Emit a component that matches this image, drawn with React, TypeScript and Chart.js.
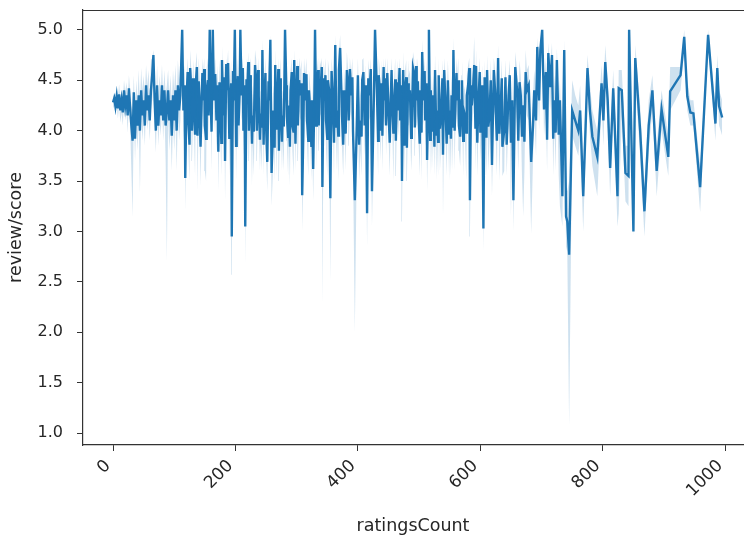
import React, { useEffect, useRef } from "react";
import { Chart, registerables } from "chart.js";
Chart.register(...registerables);

// Main sampled points (x = ratingsCount, mean review/score and its 95% CI)
const ratingsCount = [
  0, 2, 4, 6, 8, 10, 12, 14, 16, 18,
  20, 22, 24, 26, 28, 30, 32, 34, 36, 38,
  40, 42, 44, 46, 48, 50, 52, 54, 56, 58,
  60, 62, 64, 66, 68, 70, 72, 74, 76, 78,
  80, 82, 84, 86, 88, 90, 92, 94, 96, 98,
  100, 102, 104, 106, 108, 110,
  113, 115, 118, 120, 123, 126, 129, 132, 135, 138,
  141, 144, 147, 150, 153, 156, 158, 160, 163, 165,
  169, 172, 175, 178, 180, 183, 186, 188, 191, 194,
  197, 199, 202, 205, 208, 210, 213, 216, 219, 222,
  225, 228, 232, 235, 238, 241, 244, 247, 250, 252,
  255, 257, 259, 262, 265, 268, 271, 274, 277, 281,
  284, 287, 290, 293, 296, 299, 302, 306, 309, 312,
  314, 317, 320, 322, 325, 327, 330, 333, 336, 339,
  342, 345, 348, 351, 355, 359, 363, 366, 369, 371,
  374, 378, 382, 385, 389, 392,
  395, 400, 404, 407, 411, 415, 419, 423, 428, 431,
  434, 437, 440, 443, 446, 450, 453, 456, 459, 462,
  466, 469, 472, 474, 477, 480, 483, 485, 488, 490,
  493, 496, 499, 502, 505, 507, 510, 513, 516, 519,
  523, 526, 529, 532, 536, 539, 543, 547, 550, 553,
  556, 559, 562, 565, 567, 570, 573, 575, 578, 580,
  583, 586, 588, 590, 593, 597, 600, 605, 608, 611,
  615, 619, 624, 629, 633, 636, 641, 645, 650, 654,
  657, 662, 666, 670, 674, 676, 683, 688, 693, 698,
  701, 704, 709, 711, 714, 717, 721, 725, 730, 734,
  737, 740, 742, 745,
  750, 755, 760, 763, 768, 772, 775, 779, 783, 791,
  798, 801, 804, 808, 812, 817, 824, 826, 831, 837,
  842, 843, 850, 853, 861, 868, 875, 881, 888, 896,
  907, 910, 927, 933, 938, 943, 948, 959, 972, 984,
  987, 990, 995,
];

const meanScore = [
  4.28, 4.32, 4.24, 4.34, 4.22, 4.36, 4.20, 4.30, 4.18, 4.40,
  4.25, 4.35, 4.15, 4.42, 4.22, 4.05, 3.90, 4.38, 3.92, 4.30,
  4.05, 4.35, 4.00, 4.40, 4.15, 4.30, 4.05, 4.45, 4.20, 4.35,
  4.10, 4.40, 4.55, 4.75, 4.30, 4.00, 4.45, 4.05, 4.30, 4.15,
  4.45, 4.10, 4.40, 4.05, 4.20, 4.40, 4.10, 4.30, 3.95, 4.35,
  4.10, 4.40, 4.00, 4.45, 4.20, 4.35,
  5.00, 4.20, 3.53, 4.30, 4.10, 4.62, 4.00, 4.30, 4.45, 3.95,
  4.35, 4.10, 4.30, 4.05, 4.40, 4.15, 5.00, 4.20, 5.00, 4.30,
  4.10, 3.79, 4.30, 4.70, 4.15, 3.70, 4.40, 4.67, 4.20, 2.95,
  4.30, 5.00, 4.20, 4.05, 5.00, 4.35, 4.00, 3.05, 4.30, 4.00,
  4.40, 4.15, 4.65, 4.00, 4.35, 4.10, 4.80, 4.25, 4.05, 3.69,
  4.30, 4.90, 3.58, 4.20, 4.65, 4.10, 3.80, 4.35, 4.15, 5.00,
  4.14, 4.25, 4.40, 4.05, 4.70, 4.20, 4.05, 4.35, 3.36, 4.57,
  4.30, 4.10, 4.40, 4.20, 4.30, 3.62, 5.00, 4.35, 4.05, 4.40,
  3.44, 4.30, 4.10, 4.50, 3.33, 4.30, 4.85, 4.20, 4.60, 4.82,
  4.15, 4.40, 4.60, 4.10, 4.35, 4.00,
  3.31, 4.55, 4.10, 4.50, 4.05, 3.18, 4.35, 3.40, 5.00, 4.40,
  4.55, 4.00, 3.95, 4.30, 4.05, 4.20, 4.15, 4.30, 4.25, 3.90,
  4.20, 4.10, 3.50, 4.60, 4.40, 3.83, 4.30, 4.40, 4.05, 4.62,
  4.03, 4.30, 4.15, 4.40, 4.78, 4.30, 4.10, 3.71, 5.00, 4.40,
  4.35, 4.60, 4.20, 4.55, 4.15, 3.76, 4.25, 4.50, 4.20, 4.35,
  4.80, 4.20, 4.30, 4.05, 3.94, 4.50, 4.20, 4.15, 4.35, 4.45,
  3.31, 4.25, 4.40, 4.65, 4.64, 4.30, 3.98, 3.03, 4.20, 4.60,
  4.15, 3.66, 4.40, 4.72, 4.20, 3.84, 4.53, 4.20, 3.88, 3.31,
  4.63, 3.90, 4.35, 4.25, 4.58, 4.40, 3.69, 4.40, 4.83, 4.80,
  5.00, 4.21, 3.91, 4.77, 4.43, 4.75, 4.30, 4.70, 4.30, 3.35,
  4.80, 3.15, 3.10, 2.77,
  4.20, 4.10, 4.00, 4.20, 3.35, 4.05, 4.62, 4.20, 3.94, 3.74,
  4.47, 4.10, 4.68, 4.30, 3.63, 4.42, 3.35, 4.42, 4.40, 3.58,
  3.55, 5.00, 3.00, 4.72, 4.00, 3.20, 4.05, 4.40, 3.60, 4.21,
  3.74, 4.39, 4.55, 4.93, 4.34, 4.18, 4.17, 3.44, 4.95, 4.07,
  4.62, 4.24, 4.13,
];

const ciLow = [
  4.22, 4.25, 4.15, 4.26, 4.12, 4.25, 4.08, 4.18, 4.05, 4.28,
  4.10, 4.20, 3.98, 4.30, 4.05, 3.60, 3.14, 4.20, 3.70, 4.10,
  3.80, 4.10, 3.38, 4.20, 3.90, 4.10, 3.85, 4.25, 4.00, 4.15,
  3.90, 4.20, 4.30, 4.55, 4.05, 3.78, 4.25, 3.85, 4.10, 3.95,
  4.25, 3.90, 4.20, 3.70, 2.70, 4.15, 3.80, 4.05, 3.60, 4.10,
  3.80, 4.15, 3.60, 4.20, 3.90, 4.10,
  5.00, 3.90, 3.20, 4.05, 3.80, 4.40, 3.70, 4.05, 4.20, 3.40,
  4.10, 3.85, 3.95, 3.60, 4.15, 3.90, 5.00, 3.95, 5.00, 4.00,
  3.80, 3.40, 4.05, 4.50, 3.90, 3.30, 4.15, 4.45, 3.90, 2.57,
  4.05, 5.00, 3.90, 3.80, 5.00, 4.10, 3.75, 2.67, 4.05, 3.70,
  4.15, 3.90, 4.45, 3.70, 4.10, 3.85, 4.55, 4.00, 3.75, 3.40,
  4.05, 4.70, 3.25, 3.95, 4.45, 3.85, 3.50, 4.10, 3.90, 5.00,
  3.90, 4.00, 4.15, 3.80, 4.45, 3.95, 3.70, 4.10, 3.00, 4.30,
  4.05, 3.85, 4.15, 3.95, 4.05, 3.30, 5.00, 4.10, 3.80, 4.15,
  2.27, 4.05, 3.80, 4.25, 2.50, 4.05, 4.65, 3.95, 4.35, 4.60,
  3.85, 4.15, 4.35, 3.85, 4.10, 3.70,
  2.00, 4.30, 3.80, 4.25, 3.75, 2.85, 4.10, 3.05, 5.00, 4.15,
  4.30, 3.70, 3.60, 4.05, 3.75, 3.95, 3.90, 4.05, 4.00, 3.55,
  3.95, 3.85, 3.10, 4.35, 4.15, 3.50, 4.05, 4.15, 3.75, 4.40,
  3.75, 4.05, 3.90, 4.15, 4.55, 4.05, 3.85, 3.40, 5.00, 4.15,
  4.10, 4.35, 3.95, 4.30, 3.90, 3.14, 4.00, 4.25, 3.95, 4.10,
  4.60, 3.95, 4.05, 3.80, 3.65, 4.25, 3.95, 3.90, 4.10, 4.20,
  2.95, 4.00, 4.15, 4.40, 4.40, 4.05, 3.70, 2.80, 3.95, 4.35,
  3.90, 3.35, 4.15, 4.50, 3.95, 3.55, 4.30, 3.95, 3.15, 3.00,
  4.40, 3.60, 4.10, 3.15, 4.35, 4.15, 2.98, 4.15, 4.60, 4.55,
  5.00, 3.95, 3.60, 4.55, 4.20, 4.50, 4.05, 4.50, 3.25, 3.05,
  4.60, 2.85, 2.80, 1.08,
  3.95, 3.85, 3.75, 3.95, 3.00, 3.80, 4.40, 3.95, 3.65, 3.35,
  4.25, 3.85, 4.45, 4.05, 3.35, 4.20, 3.05, 3.18, 4.15, 3.30,
  3.25, 5.00, 2.95, 4.50, 3.75, 2.95, 3.80, 4.20, 3.35, 4.00,
  3.55, 4.20, 4.40, 4.80, 4.20, 4.05, 4.05, 3.19, 4.85, 3.90,
  4.45, 4.05, 3.95,
];

const ciHigh = [
  4.34, 4.38, 4.32, 4.42, 4.33, 4.46, 4.32, 4.40, 4.30, 4.50,
  4.38, 4.48, 4.30, 4.55, 4.40, 4.25, 4.20, 4.55, 4.15, 4.50,
  4.30, 4.60, 4.25, 4.62, 4.40, 4.55, 4.35, 4.65, 4.45, 4.60,
  4.35, 4.70, 4.72, 4.80, 4.55, 4.25, 4.65, 4.30, 4.55, 4.40,
  4.65, 4.35, 4.60, 4.35, 4.45, 4.60, 4.35, 4.55, 4.25, 4.60,
  4.40, 4.65, 4.30, 4.70, 4.50, 4.65,
  5.00, 4.50, 3.90, 4.55, 4.40, 4.80, 4.30, 4.55, 4.65, 4.25,
  4.60, 4.40, 4.55, 4.35, 4.62, 4.45, 5.00, 4.45, 5.00, 4.55,
  4.40, 4.10, 4.55, 4.85, 4.40, 4.05, 4.60, 4.80, 4.45, 3.35,
  4.55, 5.00, 4.45, 4.35, 5.00, 4.60, 4.30, 3.40, 4.55, 4.30,
  4.65, 4.45, 4.80, 4.30, 4.60, 4.40, 4.90, 4.50, 4.35, 4.00,
  4.55, 4.95, 3.90, 4.45, 4.80, 4.40, 4.10, 4.60, 4.40, 5.00,
  4.40, 4.50, 4.60, 4.35, 4.80, 4.45, 4.35, 4.60, 3.70, 4.72,
  4.55, 4.40, 4.60, 4.45, 4.55, 3.95, 5.00, 4.60, 4.35, 4.65,
  3.70, 4.55, 4.40, 4.70, 3.65, 4.55, 4.95, 4.45, 4.75, 4.95,
  4.40, 4.60, 4.78, 4.35, 4.55, 4.30,
  3.65, 4.72, 4.40, 4.70, 4.35, 3.55, 4.55, 3.75, 5.00, 4.60,
  4.72, 4.30, 4.25, 4.55, 4.35, 4.45, 4.40, 4.55, 4.50, 4.20,
  4.45, 4.40, 3.85, 4.78, 4.60, 4.10, 4.55, 4.60, 4.35, 4.78,
  4.30, 4.55, 4.40, 4.60, 4.90, 4.55, 4.40, 4.00, 5.00, 4.60,
  4.55, 4.75, 4.45, 4.72, 4.40, 4.05, 4.50, 4.70, 4.45, 4.55,
  4.92, 4.45, 4.55, 4.35, 4.20, 4.70, 4.45, 4.40, 4.55, 4.65,
  3.65, 4.50, 4.60, 4.93, 4.80, 4.55, 4.25, 3.35, 4.45, 4.75,
  4.40, 3.95, 4.60, 4.85, 4.45, 4.10, 4.70, 4.45, 4.15, 3.60,
  4.78, 4.20, 4.55, 4.50, 4.80, 4.60, 3.95, 4.60, 4.92, 4.90,
  5.00, 4.45, 4.15, 4.87, 4.62, 4.87, 4.55, 4.82, 4.50, 3.65,
  4.90, 3.45, 3.40, 3.50,
  4.50, 4.35, 4.25, 4.45, 3.70, 4.30, 4.75, 4.45, 4.20, 4.00,
  4.65, 4.35, 4.85, 4.50, 3.90, 4.60, 3.65, 4.60, 4.60, 3.85,
  3.85, 5.00, 3.05, 4.85, 4.25, 3.45, 4.30, 4.55, 3.85, 4.40,
  3.95, 4.63, 4.63, 5.00, 4.50, 4.30, 4.30, 3.65, 5.00, 4.25,
  4.75, 4.40, 4.30,
];

// Additional readings in the dense middle stretch (counts 113-745)
const denseCount = [
  117, 122, 125, 128, 131, 134, 137, 140, 143, 146,
  149, 152, 155, 161, 167, 171, 174, 177, 182, 185,
  190, 193, 196, 201, 204, 207, 212, 215, 218, 221,
  224, 227, 230, 234, 237, 240, 243, 246, 249, 254,
  261, 264, 267, 270, 273, 276, 279, 283, 286, 289,
  292, 295, 298, 301, 304, 308, 311, 316, 319, 324,
  329, 332, 335, 338, 341, 344, 347, 350, 353, 357,
  361, 365, 368, 373, 376, 380, 384, 387, 391,
  398, 402, 406, 409, 413, 417, 421, 426, 433, 436,
  439, 442, 445, 448, 452, 455, 458, 461, 464, 468,
  471, 476, 479, 482, 487, 492, 495, 498, 501, 504,
  509, 512, 515, 518, 521, 525, 528, 531, 534, 538,
  541, 545, 549, 552, 555, 558, 561, 564, 569, 572,
  577, 582, 585, 592, 595, 599, 603, 607, 610, 613,
  617, 622, 627, 631, 635, 639, 643, 648, 652, 660,
  664, 668, 672, 679, 686, 691, 696, 707, 719, 723,
  728,
];

const denseMean = [
  4.45, 4.58, 3.86, 4.40, 4.52, 3.97, 4.63, 4.49, 3.84, 4.57,
  4.61, 3.92, 4.50, 3.99, 4.56, 4.45, 4.48, 3.88, 4.53, 4.66,
  3.93, 4.47, 4.59, 3.85, 4.54, 4.40, 4.62, 4.45, 4.51, 4.68,
  4.55, 3.87, 3.99, 4.46, 4.60, 3.91, 4.03, 3.86, 4.57, 4.49,
  3.96, 3.83, 4.01, 4.61, 4.52, 3.89, 4.04, 4.45, 3.94, 3.84,
  4.58, 3.98, 3.87, 4.64, 4.50, 4.47, 4.02, 4.56, 3.90, 3.85,
  4.40, 4.05, 4.60, 4.48, 4.63, 4.52, 4.55, 3.92, 4.40, 4.59,
  3.88, 4.03, 3.95, 4.40, 3.86, 3.97, 4.42, 4.61, 4.53,
  4.00, 3.86, 3.94, 4.58, 4.45, 4.52, 4.61, 4.30, 3.90, 4.40,
  4.47, 4.63, 4.52, 4.57, 3.88, 4.60, 3.97, 4.51, 4.48, 4.62,
  4.45, 3.85, 4.53, 4.47, 3.93, 4.56, 4.64, 4.49, 3.87, 3.98,
  4.59, 4.47, 4.30, 3.91, 3.99, 3.84, 3.96, 3.89, 4.02, 4.52,
  4.60, 3.87, 3.97, 3.92, 4.03, 4.00, 4.57, 4.50, 4.30, 3.90,
  3.98, 4.62, 4.45, 4.02, 3.88, 4.58, 4.45, 4.53, 3.93, 4.04,
  4.50, 4.60, 3.90, 3.97, 4.52, 4.00, 3.86, 4.55, 4.30, 4.40,
  4.48, 3.94, 3.89, 4.45, 4.05, 4.10, 4.30, 4.58, 3.92, 3.98,
  3.96,
];

const denseLow = [
  4.10, 4.20, 3.50, 4.05, 4.15, 3.55, 4.25, 4.20, 3.45, 4.20,
  4.20, 3.50, 4.20, 3.60, 4.20, 4.10, 4.15, 3.55, 4.15, 4.20,
  3.55, 4.15, 4.15, 3.50, 4.20, 4.05, 4.20, 4.10, 4.20, 4.25,
  4.20, 3.45, 3.55, 4.15, 4.20, 3.60, 3.60, 3.55, 4.20, 4.15,
  3.55, 3.50, 3.55, 4.20, 4.20, 3.60, 3.60, 4.10, 3.55, 3.45,
  4.20, 3.55, 3.60, 4.20, 4.20, 4.15, 3.60, 4.20, 3.55, 3.50,
  4.05, 3.60, 4.20, 4.15, 4.20, 4.15, 4.20, 3.55, 4.05, 4.20,
  3.55, 3.60, 3.50, 4.05, 3.55, 3.60, 4.05, 4.20, 4.20,
  3.60, 3.50, 3.55, 4.20, 4.10, 4.15, 4.20, 4.00, 3.55, 4.05,
  4.15, 4.20, 4.20, 4.20, 3.55, 4.20, 3.50, 4.20, 4.15, 4.20,
  4.10, 3.55, 4.15, 4.15, 3.60, 4.15, 4.20, 4.20, 3.55, 3.50,
  4.20, 4.15, 4.00, 3.55, 3.60, 3.55, 3.50, 3.55, 3.60, 4.15,
  4.20, 3.55, 3.50, 3.55, 3.60, 3.60, 4.20, 4.20, 4.00, 3.55,
  3.50, 4.20, 4.10, 3.60, 3.55, 4.20, 4.10, 4.15, 3.55, 3.60,
  4.15, 4.20, 3.55, 3.50, 4.15, 3.60, 3.55, 4.15, 4.00, 4.05,
  4.15, 3.55, 3.60, 4.10, 3.70, 3.75, 4.00, 4.20, 3.55, 3.60,
  3.55,
];

const denseHigh = [
  4.65, 4.72, 4.25, 4.60, 4.70, 4.30, 4.78, 4.72, 4.25, 4.72,
  4.72, 4.25, 4.72, 4.30, 4.72, 4.65, 4.70, 4.30, 4.70, 4.72,
  4.30, 4.70, 4.70, 4.30, 4.72, 4.60, 4.72, 4.65, 4.72, 4.78,
  4.72, 4.25, 4.30, 4.70, 4.72, 4.30, 4.35, 4.30, 4.72, 4.70,
  4.30, 4.30, 4.30, 4.72, 4.72, 4.30, 4.35, 4.65, 4.30, 4.30,
  4.72, 4.30, 4.30, 4.72, 4.72, 4.70, 4.35, 4.72, 4.30, 4.30,
  4.60, 4.35, 4.72, 4.70, 4.72, 4.70, 4.72, 4.30, 4.60, 4.72,
  4.30, 4.35, 4.30, 4.60, 4.30, 4.30, 4.60, 4.72, 4.72,
  4.30, 4.25, 4.30, 4.72, 4.65, 4.70, 4.72, 4.55, 4.30, 4.60,
  4.70, 4.72, 4.72, 4.72, 4.30, 4.72, 4.30, 4.72, 4.70, 4.72,
  4.65, 4.30, 4.70, 4.70, 4.30, 4.70, 4.72, 4.72, 4.30, 4.30,
  4.72, 4.70, 4.55, 4.30, 4.30, 4.30, 4.30, 4.30, 4.30, 4.70,
  4.72, 4.30, 4.30, 4.30, 4.35, 4.35, 4.72, 4.72, 4.55, 4.30,
  4.30, 4.72, 4.65, 4.35, 4.30, 4.72, 4.65, 4.70, 4.30, 4.35,
  4.70, 4.72, 4.30, 4.30, 4.70, 4.35, 4.30, 4.70, 4.55, 4.60,
  4.70, 4.30, 4.30, 4.65, 4.35, 4.40, 4.55, 4.72, 4.30, 4.30,
  4.30,
];

const xTickValues = [0, 200, 400, 600, 800, 1000];
const yTickValues = [1.0, 1.5, 2.0, 2.5, 3.0, 3.5, 4.0, 4.5, 5.0];
const xLabel = "ratingsCount";
const yLabel = "review/score";

export default function App() {
  const ref = useRef<HTMLCanvasElement>(null);

  useEffect(() => {
    if (!ref.current) return;
    type Row = { x: number; m: number; lo: number; hi: number };
    const rows: Row[] = [];
    const n1 = Math.min(ratingsCount.length, meanScore.length, ciLow.length, ciHigh.length);
    for (let i = 0; i < n1; i++)
      rows.push({ x: ratingsCount[i], m: meanScore[i], lo: ciLow[i], hi: ciHigh[i] });
    const n2 = Math.min(denseCount.length, denseMean.length, denseLow.length, denseHigh.length);
    for (let i = 0; i < n2; i++)
      rows.push({ x: denseCount[i], m: denseMean[i], lo: denseLow[i], hi: denseHigh[i] });
    rows.sort((a, b) => a.x - b.x);

    const tickFont = { family: "DejaVu Sans", size: 16 };
    const xTickFont = { family: "DejaVu Sans", size: 17 };
    const titleFont = { family: "DejaVu Sans", size: 17.5 };
    const textColor = "#262626";
    const spineColor = "#333333";

    const topSpine = {
      id: "topSpine",
      afterDraw(c: any) {
        const { ctx, chartArea } = c;
        ctx.save();
        ctx.strokeStyle = spineColor;
        ctx.lineWidth = 1.2;
        ctx.beginPath();
        ctx.moveTo(chartArea.left, chartArea.top + 0.5);
        ctx.lineTo(chartArea.right + 1, chartArea.top + 0.5);
        ctx.stroke();
        ctx.restore();
      },
    };

    const chart = new Chart(ref.current, {
      type: "line",
      data: {
        datasets: [
          {
            data: rows.map((r) => ({ x: r.x, y: r.lo })),
            borderWidth: 0,
            borderColor: "rgba(0,0,0,0)",
            pointRadius: 0,
            fill: false,
          },
          {
            data: rows.map((r) => ({ x: r.x, y: r.hi })),
            borderWidth: 0,
            borderColor: "rgba(0,0,0,0)",
            backgroundColor: "rgba(31,119,180,0.22)",
            pointRadius: 0,
            fill: "-1",
          },
          {
            data: rows.map((r) => ({ x: r.x, y: r.m })),
            borderColor: "#1f77b4",
            borderWidth: 2.4,
            pointRadius: 0,
            fill: false,
            tension: 0,
          },
        ],
      },
      options: {
        responsive: false,
        animation: false,
        devicePixelRatio: 1,
        layout: { padding: { top: 10, right: 1, left: 0, bottom: 0 } },
        plugins: { legend: { display: false }, tooltip: { enabled: false } },
        scales: {
          x: {
            type: "linear",
            min: -49,
            max: 1029,
            afterBuildTicks: (s: any) => {
              s.ticks = xTickValues.map((v) => ({ value: v }));
            },
            afterFit: (s: any) => {
              s.height = 92;
              s.paddingLeft = 0;
              s.paddingRight = 0;
            },
            ticks: {
              autoSkip: false,
              minRotation: 45,
              maxRotation: 45,
              font: xTickFont,
              color: textColor,
              padding: 5,
              labelOffset: -5,
              callback: (v: any) => String(v),
            },
            grid: {
              display: true,
              drawOnChartArea: false,
              drawTicks: true,
              tickLength: 6,
              color: spineColor,
            },
            border: { display: true, color: spineColor, width: 1.2 },
            title: {
              display: true,
              text: xLabel,
              font: titleFont,
              color: textColor,
              padding: { top: 0, bottom: 0 },
            },
          },
          y: {
            type: "linear",
            min: 0.883,
            max: 5.196,
            afterBuildTicks: (s: any) => {
              s.ticks = yTickValues.map((v) => ({ value: v }));
            },
            afterFit: (s: any) => {
              s.width = 83;
              s.paddingTop = 0;
              s.paddingBottom = 0;
            },
            ticks: {
              autoSkip: false,
              font: tickFont,
              color: textColor,
              padding: 14,
              callback: (v: any) => Number(v).toFixed(1),
            },
            grid: {
              display: true,
              drawOnChartArea: false,
              drawTicks: true,
              tickLength: 6,
              color: spineColor,
            },
            border: { display: true, color: spineColor, width: 1.2 },
            title: {
              display: true,
              text: yLabel,
              font: titleFont,
              color: textColor,
              padding: { top: 6, bottom: 0 },
            },
          },
        },
      },
      plugins: [topSpine],
    } as any);

    return () => chart.destroy();
  }, []);

  return (
    <div
      style={{
        position: "fixed",
        left: 0,
        top: 0,
        width: 744,
        height: 537,
        background: "#ffffff",
      }}
    >
      <canvas ref={ref} width={744} height={537} style={{ display: "block" }} />
    </div>
  );
}
